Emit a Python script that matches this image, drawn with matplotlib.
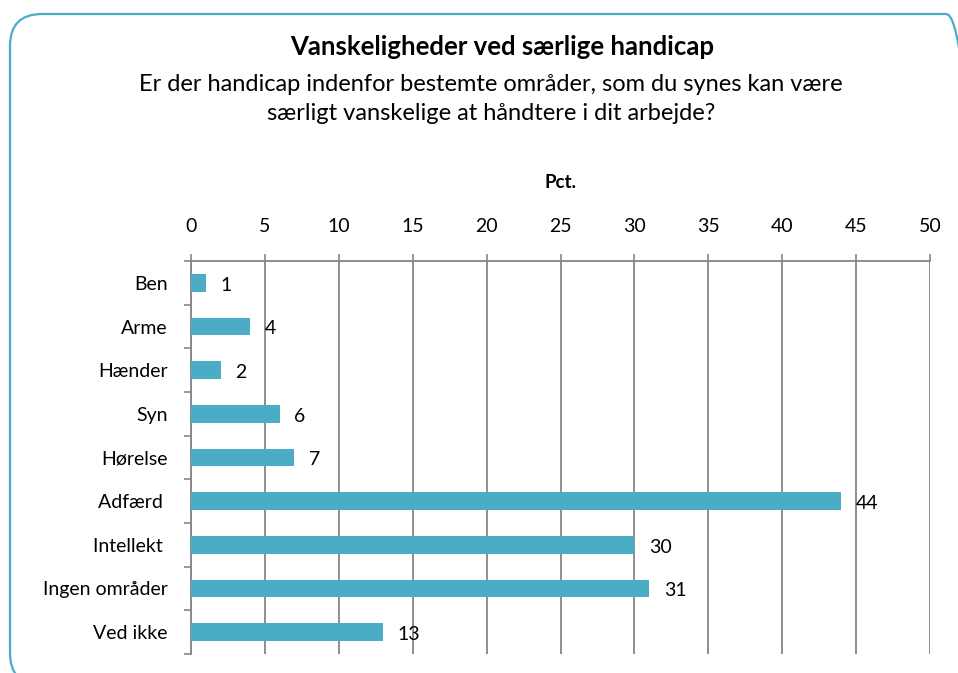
import matplotlib.pyplot as plt
from matplotlib.patches import FancyBboxPatch
from matplotlib.transforms import IdentityTransform
import numpy as np

plt.rcParams['font.family'] = ['Lato', 'DejaVu Sans']

categories = ['Ben', 'Arme', 'Hænder', 'Syn', 'Hørelse', 'Adfærd ', 'Intellekt ',
              'Ingen områder', 'Ved ikke']
values = [1, 4, 2, 6, 7, 44, 30, 31, 13]
x_ticks = [0, 5, 10, 15, 20, 25, 30, 35, 40, 45, 50]

title = 'Vanskeligheder ved særlige handicap'
subtitle = ('Er der handicap indenfor bestemte områder, som du synes kan være\n'
            'særligt vanskelige at håndtere i dit arbejde?')

bar_color = '#4BACC6'
grid_color = '#868686'

fig = plt.figure(figsize=(9.58, 6.73), dpi=100)

# rounded frame around the chart, in pixels (runs off the right and bottom edge)
frame = FancyBboxPatch((10, -12), 968, 671,
                       boxstyle='round,pad=0,rounding_size=32',
                       transform=IdentityTransform(), facecolor='none',
                       edgecolor=bar_color, linewidth=1.6, zorder=0)
fig.patches.append(frame)

ax = fig.add_axes([191 / 958, 1 - 654 / 673, (930 - 191) / 958, (654 - 261) / 673])
ax.set_facecolor('none')

y = np.arange(len(categories))
ax.barh(y, values, height=0.4, color=bar_color, zorder=3)
for yi, v in zip(y, values):
    ax.text(v + 1.0, yi + 0.05, str(v), va='center', ha='left', fontsize=14,
            color='black', zorder=4)

ax.set_xlim(0, 50)
ax.set_ylim(len(categories) - 0.5, -0.5)

ax.xaxis.tick_top()
ax.xaxis.set_label_position('top')
ax.set_xticks(x_ticks)
ax.set_xticklabels([str(t) for t in x_ticks], fontsize=14)
ax.tick_params(axis='x', length=5, width=1.2, color=grid_color, pad=14)
ax.set_xlabel('Pct.', fontsize=13.5, fontweight='bold', labelpad=21)

ax.set_yticks(y)
ax.set_yticklabels(categories, fontsize=14)
ax.tick_params(axis='y', length=0, pad=17)
ax.set_yticks(np.arange(len(categories) + 1) - 0.5, minor=True)
ax.tick_params(axis='y', which='minor', length=5, width=1.2, color=grid_color)

ax.grid(axis='x', color=grid_color, linewidth=1.3, zorder=1)
ax.set_axisbelow(True)
for s in ['right', 'bottom']:
    ax.spines[s].set_visible(False)
for s in ['top', 'left']:
    ax.spines[s].set_color(grid_color)
    ax.spines[s].set_linewidth(1.3)

fig.text(502 / 958, 1 - 47 / 673, title, ha='center', va='center',
         fontsize=18.5, fontweight='bold')
fig.text(491 / 958, 1 - 99 / 673, subtitle, ha='center', va='center',
         fontsize=17, linespacing=1.5)

fig.savefig('out.png', dpi=100)
